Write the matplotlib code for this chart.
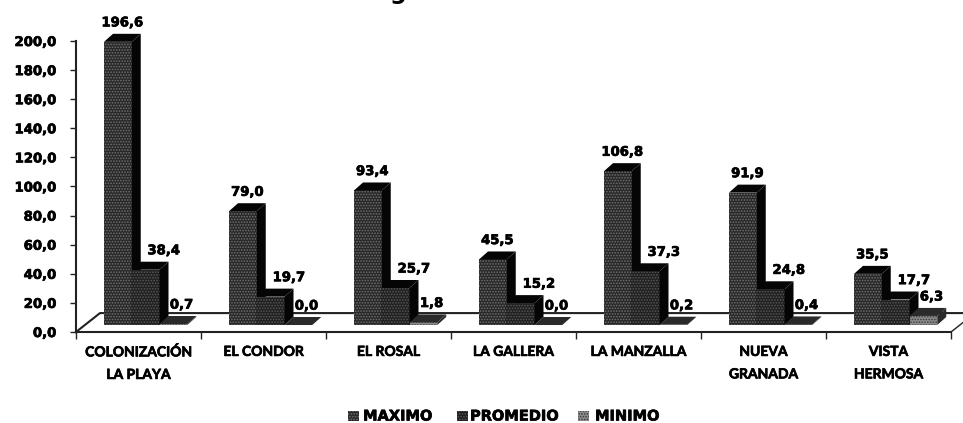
import numpy as np
import matplotlib
matplotlib.use("Agg")
import matplotlib.pyplot as plt
import matplotlib.patheffects as pe
from matplotlib.patches import Polygon, Rectangle

# Values
categories = ["COLONIZACIÓN\nLA PLAYA", "EL CONDOR", "EL ROSAL", "LA GALLERA",
              "LA MANZALLA", "NUEVA\nGRANADA", "VISTA\nHERMOSA"]
maximo = [196.6, 79.0, 93.4, 45.5, 106.8, 91.9, 35.5]
promedio = [38.4, 19.7, 25.7, 15.2, 37.3, 24.8, 17.7]
minimo = [0.7, 0.0, 1.8, 0.0, 0.2, 0.4, 6.3]
series_names = ["MAXIMO", "PROMEDIO", "MINIMO"]
y_ticks = [0, 20, 40, 60, 80, 100, 120, 140, 160, 180, 200]

# Look of each series: front colour, hatch colour, top/side colour, label shift
front_colors = ["#282828", "#202020", "#8c8c8c"]
hatch_colors = ["#707070", "#585858", "#3c3c3c"]
side_colors = ["#050505", "#050505", "#2a2a2a"]
label_shift = [0.0, 0.11, 0.03]

# Fake 3D depth in data units
bar_w = 0.222
bar_start = 0.224
base = 4.8
dx = 0.072
dy = 5.5
floor_dx = 0.192
floor_dy = 13.0
height_scale = 0.99  # the bars come out a little short of the axis in 3D

plt.rcParams["hatch.linewidth"] = 0.8
plt.rcParams["font.family"] = "DejaVu Sans"

fig = plt.figure(figsize=(9.63, 4.23), dpi=100)
ax = fig.add_axes([76 / 963, (423 - 332) / 423, (951 - 76) / 963, (332 - 41) / 423])
ax.set_xlim(0, 7)
ax.set_ylim(0, 200)

# heavier strokes for the text, it looks thick in the scan
heavy = [pe.withStroke(linewidth=0.5, foreground="black")]

# Floor of the 3D box
axis_col = "#222222"
ax.plot([0, floor_dx, 7 + floor_dx], [0, floor_dy, floor_dy], color=axis_col, lw=1.5, clip_on=False, zorder=1)
ax.plot([7, 7 + floor_dx], [0, floor_dy], color=axis_col, lw=1.0, clip_on=False, zorder=1)

all_series = [maximo, promedio, minimo]
for s, values in enumerate(all_series):
    for i, v in enumerate(values):
        x0 = i + bar_start + s * bar_w
        x1 = x0 + bar_w
        y1 = base + v * height_scale
        z = 2 + s
        ax.add_patch(Rectangle((x0, base), bar_w, y1 - base, facecolor=front_colors[s], hatch="......",
                               edgecolor=hatch_colors[s], linewidth=0, clip_on=False, zorder=z))
        ax.add_patch(Polygon([(x1, base), (x1 + dx, base + dy), (x1 + dx, y1 + dy), (x1, y1)],
                             facecolor=side_colors[s], edgecolor="none", clip_on=False, zorder=z))
        ax.add_patch(Polygon([(x0, y1), (x0 + dx, y1 + dy), (x1 + dx, y1 + dy), (x1, y1)],
                             facecolor=side_colors[s], edgecolor="none", clip_on=False, zorder=z))
        ax.text((x0 + x1 + dx) / 2 + label_shift[s], y1 + dy + 7.5, f"{v:.1f}".replace(".", ","),
                ha="center", va="center", fontsize=9.5, fontweight="bold", color="black",
                zorder=10, path_effects=heavy)

# Axes
for side in ["top", "right"]:
    ax.spines[side].set_visible(False)
for side in ["left", "bottom"]:
    ax.spines[side].set_color(axis_col)
    ax.spines[side].set_linewidth(1.5)
ax.set_yticks(y_ticks)
ax.set_yticklabels([f"{t:.1f}".replace(".", ",") for t in y_ticks], fontsize=9.5, fontweight="bold",
                   color="black", path_effects=heavy)
ax.tick_params(axis="y", length=4, width=1.0, pad=10, color=axis_col)
ax.set_xticks(np.arange(0, 8))
ax.set_xticklabels([])
ax.tick_params(axis="x", which="major", length=5, width=1.0, color=axis_col)
ax.set_xticks(np.arange(7) + 0.5, minor=True)
ax.set_xticklabels(categories, minor=True, fontsize=10, fontweight="bold", family="Lato",
                   linespacing=2.05, color="black", path_effects=heavy)
ax.tick_params(axis="x", which="minor", length=0, pad=10)

# Legend drawn by hand so the spacing follows the picture
legend_x = [348, 457, 578]
legend_text_x = [363, 470, 595]
for s, name in enumerate(series_names):
    fig.patches.append(Rectangle((legend_x[s] / 963, (423 - 421) / 423), 11 / 963, 10 / 423, transform=fig.transFigure,
                                 facecolor=front_colors[s], hatch="......", edgecolor=hatch_colors[s], linewidth=0))
    fig.text(legend_text_x[s] / 963, (423 - 416) / 423, name, ha="left", va="center",
             fontsize=10.5, fontweight="bold", color="black", path_effects=heavy)

# Only the tail of the title survives the crop at the top edge
fig.text(398 / 963, 1.003, "g", ha="center", va="baseline", fontsize=17, fontweight="bold", color="black")

fig.savefig("out.png", dpi=100)
